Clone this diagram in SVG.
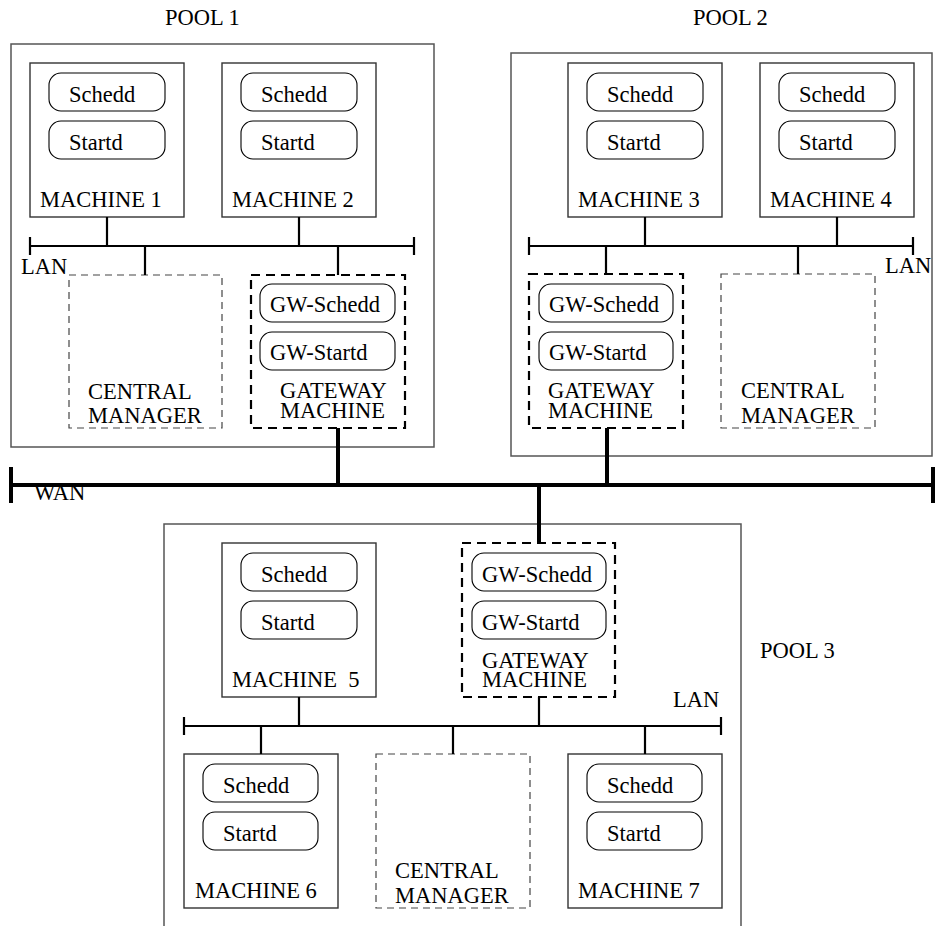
<svg xmlns="http://www.w3.org/2000/svg" width="935" height="926" viewBox="0 0 935 926">
<style>
text{font-family:"Liberation Serif","Times New Roman",serif;font-size:22.5px;fill:#000}
.pool{fill:none;stroke:#555;stroke-width:1.5}
.mach{fill:none;stroke:#333;stroke-width:1.4}
.pill{fill:none;stroke:#000;stroke-width:1.1}
.cm{fill:none;stroke:#444;stroke-width:1.2;stroke-dasharray:7 5}
.gw{fill:none;stroke:#000;stroke-width:2.2;stroke-dasharray:9 6}
.lan{fill:none;stroke:#000;stroke-width:2.2}
.wan{fill:none;stroke:#000;stroke-width:4}
</style>
<rect width="935" height="926" fill="#fff"/>

<g id="pool1">
<text x="165" y="25">POOL 1</text>
<rect class="pool" x="11" y="44" width="423" height="403"/>
<text x="21" y="274">LAN</text>
</g>
<g id="pool2">
<text x="693" y="25">POOL 2</text>
<rect class="pool" x="511" y="53" width="421" height="403"/>
<text x="885" y="273">LAN</text>
</g>
<g id="pool3">
<text x="760" y="658">POOL 3</text>
<path class="pool" d="M164,930 V524 H741 V930"/>
<text x="673" y="707">LAN</text>
</g>
<g id="wan-label"><text x="34" y="500">WAN</text></g>

<g id="machine1">
<rect class="mach" x="30" y="63" width="154" height="154"/>
<rect class="pill" x="49" y="73" width="116" height="38" rx="12"/>
<rect class="pill" x="49" y="121" width="116" height="38" rx="12"/>
<text x="69" y="102">Schedd</text><text x="69" y="150">Startd</text>
<text x="40" y="207">MACHINE 1</text>
</g>
<g id="machine2">
<rect class="mach" x="222" y="63" width="154" height="154"/>
<rect class="pill" x="241" y="73" width="116" height="38" rx="12"/>
<rect class="pill" x="241" y="121" width="116" height="38" rx="12"/>
<text x="261" y="102">Schedd</text><text x="261" y="150">Startd</text>
<text x="232" y="207">MACHINE 2</text>
</g>
<g id="cm1">
<rect class="cm" x="69" y="275" width="153" height="153"/>
<text x="88" y="399">CENTRAL</text><text x="88" y="423">MANAGER</text>
</g>
<g id="gw1">
<rect class="gw" x="251" y="275" width="154" height="153"/>
<rect class="pill" x="260" y="284" width="135" height="38" rx="12"/>
<rect class="pill" x="260" y="332" width="135" height="38" rx="12"/>
<text x="270" y="312">GW-Schedd</text><text x="270" y="360">GW-Startd</text>
<text x="280" y="398">GATEWAY</text><text x="280" y="418">MACHINE</text>
</g>

<g id="machine3">
<rect class="mach" x="568" y="63" width="154" height="154"/>
<rect class="pill" x="587" y="73" width="116" height="38" rx="12"/>
<rect class="pill" x="587" y="121" width="116" height="38" rx="12"/>
<text x="607" y="102">Schedd</text><text x="607" y="150">Startd</text>
<text x="578" y="207">MACHINE 3</text>
</g>
<g id="machine4">
<rect class="mach" x="760" y="63" width="154" height="154"/>
<rect class="pill" x="779" y="73" width="116" height="38" rx="12"/>
<rect class="pill" x="779" y="121" width="116" height="38" rx="12"/>
<text x="799" y="102">Schedd</text><text x="799" y="150">Startd</text>
<text x="770" y="207">MACHINE 4</text>
</g>
<g id="gw2">
<rect class="gw" x="529" y="274" width="154" height="154"/>
<rect class="pill" x="539" y="284" width="134" height="38" rx="12"/>
<rect class="pill" x="539" y="332" width="134" height="38" rx="12"/>
<text x="549" y="312">GW-Schedd</text><text x="549" y="360">GW-Startd</text>
<text x="548" y="398">GATEWAY</text><text x="548" y="418">MACHINE</text>
</g>
<g id="cm2">
<rect class="cm" x="721" y="274" width="154" height="154"/>
<text x="741" y="398">CENTRAL</text><text x="741" y="423">MANAGER</text>
</g>

<g id="machine5">
<rect class="mach" x="222" y="543" width="154" height="154"/>
<rect class="pill" x="241" y="553" width="116" height="38" rx="12"/>
<rect class="pill" x="241" y="601" width="116" height="38" rx="12"/>
<text x="261" y="582">Schedd</text><text x="261" y="630">Startd</text>
<text x="232" y="687" xml:space="preserve">MACHINE  5</text>
</g>
<g id="gw3">
<rect class="gw" x="462" y="543" width="153" height="154"/>
<rect class="pill" x="472" y="553" width="134" height="38" rx="12"/>
<rect class="pill" x="472" y="601" width="134" height="38" rx="12"/>
<text x="482" y="582">GW-Schedd</text><text x="482" y="630">GW-Startd</text>
<text x="482" y="668">GATEWAY</text><text x="482" y="687">MACHINE</text>
</g>
<g id="machine6">
<rect class="mach" x="184" y="754" width="154" height="154"/>
<rect class="pill" x="203" y="764" width="115" height="38" rx="12"/>
<rect class="pill" x="203" y="812" width="115" height="38" rx="12"/>
<text x="223" y="793">Schedd</text><text x="223" y="841">Startd</text>
<text x="195" y="898">MACHINE 6</text>
</g>
<g id="cm3">
<rect class="cm" x="376" y="754" width="154" height="154"/>
<text x="395" y="878">CENTRAL</text><text x="395" y="903">MANAGER</text>
</g>
<g id="machine7">
<rect class="mach" x="568" y="754" width="154" height="154"/>
<rect class="pill" x="587" y="764" width="115" height="38" rx="12"/>
<rect class="pill" x="587" y="812" width="115" height="38" rx="12"/>
<text x="607" y="793">Schedd</text><text x="607" y="841">Startd</text>
<text x="578" y="898">MACHINE 7</text>
</g>

<g id="connectors">
<path class="lan" d="M30,246 H414 M30,237 V255 M414,237 V255 M107,217 V246 M299,217 V246 M145,246 V275 M338,246 V275"/>
<path class="lan" d="M529,246 H913 M529,237 V255 M913,237 V255 M645,217 V246 M837,217 V246 M606,246 V274 M798,246 V274"/>
<path class="lan" d="M184,726 H721 M184,717 V735 M721,717 V735 M299,697 V726 M539,697 V726 M261,726 V754 M453,726 V754 M645,726 V754"/>
<path class="wan" d="M11,485 H933 M11,467 V503 M933,467 V503 M338,428 V485 M607,428 V485 M539,485 V543"/>
</g>
</svg>
